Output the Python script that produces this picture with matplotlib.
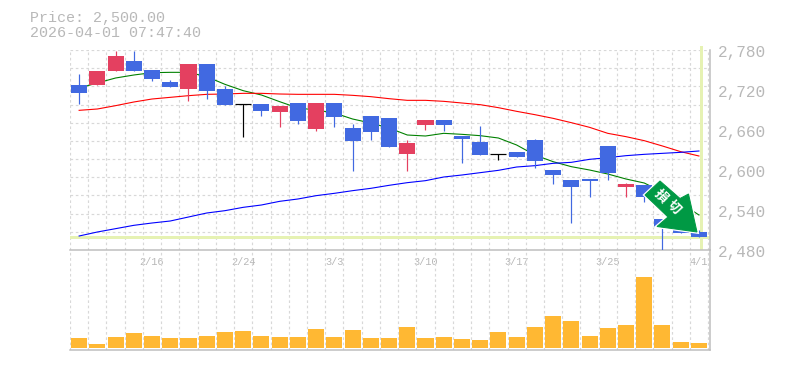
import matplotlib
matplotlib.use('Agg')
import matplotlib.pyplot as plt
from matplotlib.patches import Polygon

plt.rcParams['font.family'] = ['Liberation Mono', 'Noto Sans CJK JP', 'DejaVu Sans']

opens = [2727.5, 2727.5, 2748.5, 2763.5, 2750, 2732, 2721.5, 2759, 2721.5, 2698.5, 2699, 2687,
         2700.5, 2661.5, 2700.5, 2663, 2681, 2678, 2624, 2667.5, 2675, 2651, 2642, 2623.5,
         2627, 2645, 2600, 2585, 2586.5, 2636, 2574.5, 2577.5, 2526.5, 2510, 2507]
highs = [2744, 2748.5, 2778.5, 2779, 2750, 2735, 2759, 2759, 2726, 2698.5, 2699, 2696,
         2700.5, 2700.5, 2700.5, 2669, 2681, 2678, 2645, 2675, 2675, 2651, 2666, 2623.5,
         2627, 2646.5, 2600, 2585, 2586.5, 2636, 2580.5, 2577.5, 2526.5, 2510, 2510]
lows = [2699, 2727.5, 2748.5, 2748.5, 2733.5, 2724.5, 2703.5, 2706.5, 2697.5, 2649.5, 2681, 2664.5,
        2669, 2658.5, 2664.5, 2599, 2645, 2634.5, 2598.5, 2660, 2658.5, 2610.5, 2622.5, 2614.5,
        2619.5, 2603, 2579, 2520.5, 2559.5, 2585, 2559.5, 2552, 2480, 2505.5, 2499.5]
closes = [2715.5, 2748.5, 2771, 2748.5, 2736.5, 2724.5, 2759, 2718.5, 2697.5, 2698.5, 2688.5, 2696,
          2673.5, 2700.5, 2679.5, 2643.5, 2657, 2634.5, 2640.5, 2675, 2667.5, 2646.5, 2622.5, 2623.5,
          2619.5, 2613.5, 2592.5, 2574.5, 2583.5, 2595.5, 2579, 2559.5, 2513, 2505.5, 2499.5]
ma_green = [2723, 2730.5, 2738, 2742.5, 2746, 2746.5, 2746.5, 2740, 2728.5, 2719, 2712.5, 2702.5,
            2693, 2690, 2685.5, 2676.5, 2670.5, 2663, 2652.5, 2651, 2655, 2653.5, 2651.5, 2648,
            2637.5, 2622.5, 2612.5, 2605, 2600, 2594, 2586.5, 2580.5, 2567, 2550.5, 2532.5]
ma_red = [2689.5, 2691.5, 2696.5, 2702, 2706.5, 2709, 2711.5, 2713.5, 2714, 2715, 2715, 2714,
          2713.5, 2713.5, 2713.5, 2712, 2710, 2707, 2704.5, 2704.5, 2703, 2700.5, 2698, 2693.5,
          2688, 2683, 2677.5, 2671, 2664, 2655, 2650, 2644, 2636, 2627.5, 2621]
ma_blue = [2501, 2507, 2512, 2517, 2520.5, 2523.5, 2529.5, 2535.5, 2539, 2544, 2547.5, 2553,
           2556.5, 2561.5, 2565, 2569, 2572.5, 2577, 2581, 2584, 2589.5, 2592.5, 2596, 2599.5,
           2604.5, 2606.5, 2610, 2611.5, 2616, 2618.5, 2621.5, 2623.5, 2625, 2626.5, 2628.5]
volumes = [10, 4, 11, 15, 12, 10, 10, 12, 16, 17, 12, 11, 11, 19, 11, 18, 10, 10, 21, 10, 11, 9, 8, 16,
           11, 21, 32, 27, 12, 20, 23, 71, 23, 6, 5]
date_idx = [4, 9, 14, 19, 24, 29, 34]
date_labels = ['2/16', '2/24', '3/3', '3/10', '3/17', '3/25', '4/1']
price_ticks = [2780, 2720, 2660, 2600, 2540, 2480]
price_now = 2500
title_lines = ['Price: 2,500.00', '2026-04-01 07:47:40']
badge_text = ['損', '切']

W, H = 785, 370
STEP = 18.23
PX = 72 / 100
GRID = '#d8d8d8'
AXIS = '#bdbdbd'
TEXT = '#b8b8b8'
UP = '#e44060'
DOWN = '#4169e1'
n = len(opens)
xs = [i + 0.5 for i in range(n)]
xmax = 640 / STEP

fig = plt.figure(figsize=(W / 100, H / 100), dpi=100)
ax = fig.add_axes([70 / W, 1 - 250 / H, 640 / W, 200 / H])
axv = fig.add_axes([70 / W, 1 - 350 / H, 640 / W, 100 / H])

for a in (ax, axv):
    a.set_xlim(0, xmax)
    a.set_xticks([i for i in range(n + 1)], minor=True)
    a.grid(True, which='minor', axis='x', color=GRID, lw=1.2 * PX, ls=(0, (2.2, 2.2)), zorder=0)
    a.tick_params(which='both', length=0)
    a.patch.set_alpha(0)
    a.set_axisbelow(True)
    for s in ('top', 'left'):
        a.spines[s].set_visible(False)
    for s in ('bottom', 'right'):
        a.spines[s].set_color(AXIS)
        a.spines[s].set_linewidth(1.5 * PX)

ax.set_ylim(2480, 2780)
ax.set_yticks([2480 + 300 * j / 11 for j in range(1, 12)], minor=True)
ax.set_yticks([])
ax.grid(True, which='minor', axis='y', color=GRID, lw=1.2 * PX, ls=(0, (2.2, 2.2)), zorder=0)
ax.set_xticks([xs[i] for i in date_idx])
ax.set_xticklabels(date_labels, color=TEXT, fontsize=7.4)
ax.tick_params(axis='x', which='major', pad=4.8)

# price now marker lines
ax.axhline(price_now, color='#e6f2b3', lw=3 * PX, zorder=1)
ax.axvline(xs[-1] + 0.1, ymin=0.01, ymax=1.015, color='#e6f2b3', lw=3 * PX, zorder=1, clip_on=False)

ax.plot(xs, ma_green, color='#008000', lw=1.1 * PX, zorder=2)
ax.plot(xs, ma_red, color='#ff0000', lw=1.1 * PX, zorder=2)
ax.plot(xs, ma_blue, color='#0000ff', lw=1.1 * PX, zorder=2)

for x, o, h, l, c in zip(xs, opens, highs, lows, closes):
    col = 'black' if o == c else (UP if c > o else DOWN)
    ax.vlines(x, l, h, color=col, lw=1.2 * PX, zorder=3)
    if o == c:
        ax.hlines(o, x - 0.44, x + 0.44, color=col, lw=1.2 * PX, zorder=3)
    else:
        ax.bar(x, abs(c - o), bottom=min(o, c), width=0.88, color=col, zorder=3)

axv.bar(xs, volumes, width=0.88, color='#ffb833', zorder=3)
axv.set_ylim(-2, 98)
axv.set_xticks([])
axv.set_yticks([])

for p in price_ticks:
    ax.annotate(f'{p:,}', (1, p), xycoords=('axes fraction', 'data'), xytext=(8, -3),
                textcoords='offset pixels', color=TEXT, fontsize=11.6, va='center', ha='left',
                annotation_clip=False)

fig.text(30 / W, 1 - 18 / H, title_lines[0], color=TEXT, fontsize=10.8, va='center', ha='left')
fig.text(30 / W, 1 - 33 / H, title_lines[1], color=TEXT, fontsize=10.8, va='center', ha='left')

# arrow badge, in pixel coordinates of the figure
arrow_px = [(660, 181), (645, 195), (668, 217), (657, 226.5), (697, 232), (688.5, 194), (680, 198.5)]
pts = [(x / W, 1 - y / H) for x, y in arrow_px]
fig.add_artist(Polygon(pts, closed=True, transform=fig.transFigure, facecolor='#009944',
                       edgecolor='white', lw=3.5 * PX, joinstyle='miter', zorder=10))
fig.add_artist(Polygon(pts, closed=True, transform=fig.transFigure, facecolor='#009944',
                       edgecolor='#009944', lw=1 * PX, zorder=10))
fig.text(660.5 / W, 1 - 196.5 / H, badge_text[0], color='white', fontsize=9.5, rotation=-45, weight='bold',
         ha='center', va='center', zorder=11)
fig.text(673 / W, 1 - 208 / H, badge_text[1], color='white', fontsize=9.5, rotation=-45, weight='bold',
         ha='center', va='center', zorder=11)

fig.savefig('out.png', dpi=100)
